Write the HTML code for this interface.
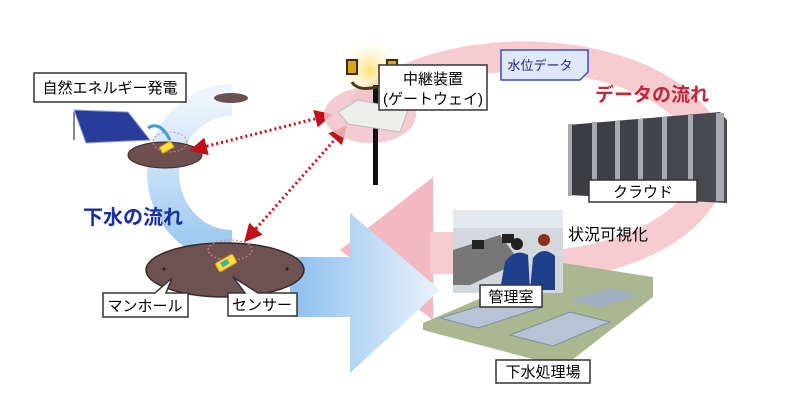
<!DOCTYPE html>
<html><head><meta charset="utf-8"><style>
html,body{margin:0;padding:0;background:#fff;}
svg{display:block;}
text{font-family:"Liberation Sans","Noto Sans CJK JP",sans-serif;}
</style></head><body>
<svg width="800" height="407" viewBox="0 0 800 407" xmlns="http://www.w3.org/2000/svg">
<defs>
<linearGradient id="bl" gradientUnits="userSpaceOnUse" x1="290" y1="0" x2="440" y2="0">
<stop offset="0" stop-color="#8cbfee"/><stop offset="1" stop-color="#eaf3fc"/></linearGradient>
<linearGradient id="bl2" x1="0" y1="0" x2="0" y2="1">
<stop offset="0" stop-color="#eef5fc"/><stop offset="1" stop-color="#9cc8f0"/></linearGradient>
<linearGradient id="srv" x1="0" y1="0" x2="1" y2="0">
<stop offset="0" stop-color="#3a3c42"/><stop offset="1" stop-color="#4a4c52"/></linearGradient>
<radialGradient id="glow"><stop offset="0" stop-color="#ffe27a"/><stop offset="1" stop-color="#fff" stop-opacity="0"/></radialGradient>
<marker id="ah" markerWidth="6" markerHeight="6" refX="5" refY="3" orient="auto"><path d="M0,0 L6,3 L0,6 z" fill="#c0101a"/></marker>
<marker id="ahs" markerWidth="6" markerHeight="6" refX="1" refY="3" orient="auto"><path d="M6,0 L0,3 L6,6 z" fill="#c0101a"/></marker>
</defs>

<!-- pink data flow ring -->
<path d="M360,110 A188,105 0 1 1 470,262" fill="none" stroke="#f6ccd1" stroke-width="30"/>
<polygon points="433,177 433,320 340,250" fill="#f3b9c0"/>
<rect x="430" y="232" width="60" height="42" fill="#f6ccd1"/>

<!-- blue sewage flow -->
<path d="M232,100 A68,72 0 0 0 232,246" fill="none" stroke="url(#bl2)" stroke-width="32"/>
<path d="M290,257 H350 V213 L440,290 L350,373 V317 H290 Z" fill="url(#bl)"/>

<!-- small manhole -->
<ellipse cx="231" cy="98" rx="17" ry="5" fill="#6b5050"/>

<!-- solar panel -->
<line x1="74" y1="112" x2="74" y2="140" stroke="#888" stroke-width="2"/>
<polygon points="74,110 128,112 150,140 86,143" fill="#2a3c9a" stroke="#8ea0d8"/>
<path d="M148,128 Q160,120 170,140" stroke="#3a9fd0" stroke-width="3" fill="none"/>
<!-- manhole 1 -->
<ellipse cx="165" cy="155" rx="37" ry="13" fill="#6e4f4f" stroke="#3f2a2a"/>
<ellipse cx="170" cy="142" rx="17" ry="10" fill="none" stroke="#e08090" stroke-dasharray="2,2"/>
<rect x="160" y="144" width="13" height="7" fill="#f5e040" stroke="#e09020" transform="rotate(-30 166 147)"/>

<!-- manhole 2 -->
<ellipse cx="225" cy="270" rx="79" ry="27" fill="#6e5252" stroke="#3a2828" stroke-width="1.5"/>
<ellipse cx="230" cy="250" rx="22" ry="10" fill="none" stroke="#e08090" stroke-dasharray="2,2"/>
<circle cx="164" cy="269" r="1.5" fill="#222"/><circle cx="287" cy="269" r="1.5" fill="#222"/>
<rect x="216" y="258" width="20" height="10" rx="2" fill="#f5e040" stroke="#e09020" transform="rotate(-30 226 263)"/>
<rect x="221" y="260" width="8" height="5" fill="#40b0a0" transform="rotate(-30 226 263)"/>

<!-- dotted red links -->
<line x1="192" y1="150" x2="330" y2="115" stroke="#c0101a" stroke-width="3" stroke-dasharray="2,3" marker-end="url(#ah)" marker-start="url(#ahs)"/>
<line x1="246" y1="240" x2="345" y2="128" stroke="#c0101a" stroke-width="3" stroke-dasharray="2,3" marker-end="url(#ah)" marker-start="url(#ahs)"/>

<!-- gateway -->
<circle cx="370" cy="70" r="34" fill="url(#glow)"/>
<ellipse cx="370" cy="115" rx="46" ry="28" fill="#f2c2c8" opacity="0.85"/>
<rect x="373" y="85" width="5" height="100" fill="#111"/>
<path d="M352,82 Q360,95 392,82" stroke="#4a3a20" stroke-width="3" fill="none"/>
<rect x="347" y="60" width="10" height="14" fill="#e0a020" stroke="#3a2a10" stroke-width="2"/>
<rect x="387" y="60" width="10" height="14" fill="#e0a020" stroke="#3a2a10" stroke-width="2"/>
<polygon points="338,112 358,100 408,110 400,132 348,124" fill="#eeeeea" stroke="#bbb"/>
<rect x="379" y="65" width="108" height="45" fill="#fff" stroke="#333" stroke-width="1.5"/>
<text x="433" y="84" font-size="15" text-anchor="middle">中継装置</text>
<text x="433" y="104" font-size="15" text-anchor="middle">(ゲートウェイ)</text>

<!-- 水位データ tag -->
<path d="M501,50 H588 V72 L580,80 H501 Z" fill="#dfe8ff" stroke="#3a4fb8" stroke-width="1.5"/>
<text x="540" y="70" font-size="13" text-anchor="middle" fill="#1a2a70">水位データ</text>
<text x="595" y="101" font-size="19" font-weight="bold" fill="#c0283a">データの流れ</text>

<!-- servers -->
<polygon points="568,125 720,112 727,120 727,203 568,195" fill="url(#srv)"/>
<g fill="#a8aab0">
<rect x="568" y="124" width="4" height="72"/><rect x="592" y="122" width="5" height="76"/><rect x="615" y="121" width="5" height="78"/><rect x="638" y="119" width="5" height="80"/><rect x="662" y="117" width="5" height="83"/><rect x="688" y="115" width="5" height="85"/><rect x="716" y="113" width="8" height="88"/>
</g>
<rect x="589" y="180" width="108" height="22" fill="#fff" stroke="#333" stroke-width="1.5"/>
<text x="643" y="197" font-size="15" text-anchor="middle">クラウド</text>
<text x="568" y="240" font-size="16">状況可視化</text>

<!-- treatment plant -->
<polygon points="423,323 563,263 653,277 653,297 563,367 423,330" fill="#a9b88e"/>
<polygon points="440,318 500,300 540,308 478,328" fill="#b8c4d6" stroke="#7f8ca0"/>
<polygon points="510,335 570,312 610,322 553,346" fill="#b8c4d6" stroke="#7f8ca0"/>
<polygon points="570,300 610,288 640,295 600,308" fill="#9fb0c0"/>
<rect x="453" y="210" width="110" height="83" fill="#d2d8de"/>
<rect x="453" y="210" width="110" height="18" fill="#e4e9ee"/>
<polygon points="453,250 500,235 520,262 470,285 453,285" fill="#777"/>
<rect x="472" y="240" width="12" height="9" fill="#222"/><rect x="502" y="234" width="12" height="9" fill="#222"/>
<path d="M500,290 L505,262 Q515,248 528,255 L530,290 Z" fill="#1e3f8c"/>
<circle cx="517" cy="244" r="6" fill="#222"/>
<path d="M530,290 L533,258 Q543,245 555,256 L555,290 Z" fill="#1e3f8c"/>
<circle cx="544" cy="240" r="6" fill="#8a3020"/>
<rect x="480" y="285" width="62" height="22" fill="#fff" stroke="#333" stroke-width="1.5"/>
<text x="511" y="302" font-size="15" text-anchor="middle">管理室</text>
<rect x="496" y="360" width="94" height="23" fill="#fff" stroke="#333" stroke-width="1.5"/>
<text x="543" y="377" font-size="15" text-anchor="middle">下水処理場</text>

<!-- left labels -->
<rect x="34" y="73" width="152" height="29" fill="#fff" stroke="#333" stroke-width="1.5"/>
<text x="110" y="93" font-size="15" text-anchor="middle">自然エネルギー発電</text>
<text x="83" y="224" font-size="20" font-weight="bold" fill="#1a2fa0">下水の流れ</text>
<path d="M103,293 H155 L172,278 L166,293 H188 V317 H103 Z" fill="#fff" stroke="#333" stroke-width="1.5"/>
<text x="145" y="311" font-size="15" text-anchor="middle">マンホール</text>
<path d="M228,293 H245 L233,277 L258,293 H297 V316 H228 Z" fill="#fff" stroke="#333" stroke-width="1.5"/>
<text x="262" y="310" font-size="15" text-anchor="middle">センサー</text>
</svg>
</body></html>
